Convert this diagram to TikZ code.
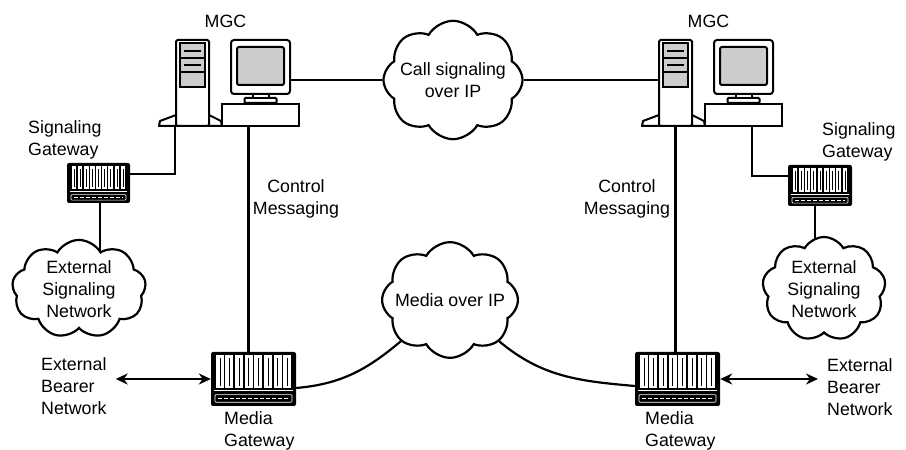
\documentclass[tikz,border=0pt]{standalone}
\usepackage{fontspec}
\setmainfont{Liberation Sans}
\usetikzlibrary{arrows.meta,shapes.symbols,backgrounds}
\definecolor{screengray}{RGB}{204,204,204}
\begin{document}
\begin{tikzpicture}[
    x=1pt, y=1pt,
    every node/.style={font=\fontsize{17.8}{22}\selectfont},
    wire/.style={draw, line width=2.2pt},
    link/.style={draw, line width=2.2pt, {Stealth[length=12pt,width=11pt]}-{Stealth[length=12pt,width=11pt]}},
    lbl/.style={inner sep=0pt, align=left},
    netcloud/.style={cloud, draw, fill=white, line width=2.2pt, cloud puffs=8, cloud puff arc=120, inner ysep=0pt, align=center},
    part/.style={draw, fill=white, line width=2pt, inner sep=0pt},
    gwbox/.style={fill=black, rounded corners=2pt, inner sep=0pt},
    pics/mgc/.style={code={
      % desk and the feet of the tower
      \node[part, minimum width=77, minimum height=22] (-desk) at (84.5,11) {};
      \draw[fill=white, line width=2pt, line join=round]
        (-17,0) -- (-16,5) -- (0,11) -- (33,11) -- (45,5) -- (46,0) -- cycle;
      % tower with its drive bays
      \node[part, rounded corners=1.5pt, minimum width=33, minimum height=86] (-tower) at (16.5,43) {};
      \draw[fill=screengray, line width=1.4pt] (4,39) rectangle (29,83);
      \draw[line width=1.4pt] (4,54) -- (29,54) (4,68) -- (29,68);
      \draw[line width=2.2pt] (8,75) -- (25,75) (8,61) -- (25,61);
      % monitor on its stand
      \draw[fill=white, line width=2pt, rounded corners=1pt] (68.5,23) rectangle (100.5,28);
      \draw[fill=white, line width=2pt] (76.5,28) rectangle (92.5,32);
      \node[part, rounded corners=3pt, minimum width=59, minimum height=54] (-mon) at (84.5,59) {};
      \draw[fill=screengray, line width=2pt, rounded corners=2pt] (61,41) rectangle (108,79);
      \node (-name) at (49.5,105) {MGC};
    }},
    pics/gateway/.style n args={3}{code={
      \node[gwbox, minimum width=#1, minimum height=#2] (-box) at (0,0) {};
      \pgfmathsetmacro\slotw{(#1-8)/#3}
      % card slots
      \foreach \k in {1,...,#3}{
        \fill[white] ({-#1/2+4+(\k-1)*\slotw+0.8},{#2/2-3}) rectangle ({-#1/2+4+\k*\slotw-0.8},{-0.16*#2});
        \draw[line width=0.6pt] ({-#1/2+4+(\k-0.5)*\slotw},{#2/2-6}) -- ({-#1/2+4+(\k-0.5)*\slotw},{-0.16*#2+2});
      }
      % front strip
      \draw[white, line width=0.8pt] ({-#1/2+3},{-0.22*#2}) -- ({#1/2-3},{-0.22*#2});
      \draw[white, line width=0.6pt, rounded corners=1pt] ({-#1/2+4},{-0.43*#2}) rectangle ({#1/2-4},{-0.29*#2});
      \draw[white, line width=1.4pt, dash pattern=on 4pt off 2pt] ({-#1/2+7},{-0.36*#2}) -- ({#1/2-7},{-0.36*#2});
    }},
    ]
\useasboundingbox (0,0) rectangle (906,450);
% call agents
\pic (L) at (176,324) {mgc};
\pic (R) at (659,324) {mgc};
% networks
\node[netcloud, aspect=1.3, inner xsep=-8pt, minimum width=134, minimum height=100] (call) at (453,370) {Call signaling\\over IP};
\node[netcloud, aspect=1.3, inner xsep=-11pt, minimum width=131, minimum height=90] (media) at (450,150) {Media over IP};
\node[netcloud, cloud puffs=9, aspect=1.4, minimum width=134, minimum height=96] (extL) at (79,161) {External\\Signaling\\Network};
\node[netcloud, cloud puffs=9, aspect=1.3, minimum width=112, minimum height=96] (extR) at (824,161) {External\\Signaling\\Network};
% gateways
\pic (sgL) at (98.5,267) {gateway={63}{40}{9}};
\pic (sgR) at (820,264.5) {gateway={64}{41}{9}};
\pic (mgL) at (253.5,71) {gateway={85}{54}{8}};
\pic (mgR) at (677.5,71) {gateway={85}{54}{8}};
% labels
\node[lbl, anchor=west] (sgLtext) at (28,310.5) {Signaling\\Gateway};
\node[lbl, anchor=west] (sgRtext) at (822,308.5) {Signaling\\Gateway};
\node[lbl, align=center] (ctlL) at (296,251.5) {Control\\Messaging};
\node[lbl, align=center] (ctlR) at (627,251.5) {Control\\Messaging};
\node[lbl, anchor=west] (ebL) at (41,64) {External\\Bearer\\Network};
\node[lbl, anchor=west] (ebR) at (827,63) {External\\Bearer\\Network};
\node[lbl, anchor=west] (mgLtext) at (224,19) {Media\\Gateway};
\node[lbl, anchor=west] (mgRtext) at (645,19) {Media\\Gateway};
% signaling links
\draw[wire] (call.west) -- (call.west -| L-mon.east);
\draw[wire] (call.east) -- (call.east -| R-tower.west);
\draw[wire] (L-tower.south west) |- ([yshift=9pt]sgL-box.east);
\draw[wire] ([xshift=8.5pt]R-desk.south) |- ([yshift=9.5pt]sgR-box.west);
\draw[wire] ([xshift=-5pt]mgL-box.north) -- ([xshift=-5pt]mgL-box.north |- L-desk.south);
\draw[wire] (R-tower.south) -- (R-tower.south |- mgR-box.north);
\begin{scope}[on background layer]
\draw[wire] ([xshift=1.5pt]sgL-box.south) -- ([xshift=1.5pt]sgL-box.south |- extL.center);
\draw[wire] ([xshift=-5pt]sgR-box.south) -- ([xshift=-5pt]sgR-box.south |- extR.center);
\end{scope}
% bearer paths
\draw[wire] ([yshift=-9pt]mgL-box.east) to[out=5, in=220] (media.-140);
\draw[wire] ([yshift=-7pt]mgR-box.west) to[out=175, in=-40] (media.-40);
\draw[link, shorten >=9pt] (mgL-box.west) -- (mgL-box.west -| ebL.east);
\draw[link, shorten >=9pt] (mgR-box.east) -- (mgR-box.east -| ebR.west);
\end{tikzpicture}
\end{document}
